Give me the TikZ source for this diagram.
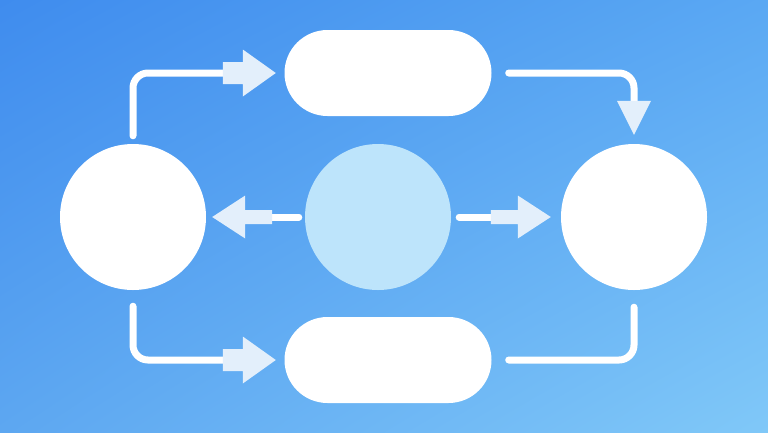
\documentclass[tikz,border=0pt]{standalone}
\usetikzlibrary{calc,shadings}
\definecolor{bgTL}{HTML}{3F8CEE}
\definecolor{bgTR}{HTML}{5AA8F3}
\definecolor{bgBL}{HTML}{5DA7F1}
\definecolor{bgBR}{HTML}{80C8F8}
\definecolor{centerc}{HTML}{BDE4FB}
\definecolor{headc}{HTML}{E3EFFB}
\begin{document}
\begin{tikzpicture}[x=1pt,y=-1pt,
  disc/.style={circle,fill=white,minimum size=146pt,inner sep=0pt},
  pill/.style={rectangle,rounded corners=43pt,fill=white,minimum width=207pt,minimum height=86pt,inner sep=0pt},
  wire/.style={draw=white,line width=7pt,line cap=round,rounded corners=15pt},
  elbowhead/.pic={\fill[headc] (-53,-11) -- (-33,-11) -- (-33,-23.5) -- (0,0) -- (-33,23.5) -- (-33,11) -- (-53,11) -- cycle;},
  midhead/.pic={\fill[headc] (-60,-7) -- (-33,-7) -- (-33,-21.5) -- (0,0) -- (-33,21.5) -- (-33,7) -- (-60,7) -- cycle;},
  trihead/.pic={\fill[headc] (-34,-17) -- (0,0) -- (-34,17) -- cycle;}]
\useasboundingbox (0,0) rectangle (768,432);
\shade[upper left=bgTL,upper right=bgTR,lower left=bgBL,lower right=bgBR] (0,0) rectangle (768,432);

\node[disc] (L) at (133,217) {};
\node[disc,fill=centerc] (C) at (378,217) {};
\node[disc] (R) at (634,217) {};
\node[pill] (T) at (388,73) {};
\node[pill] (B) at (388,360) {};

% top-left: L -> T
\draw[wire] ($(L.north)+(0,-8)$) -- (L.north |- T.west) -- ($(T.west)+(-61,0)$);
\pic at ($(T.west)+(-8.5,0)$) {elbowhead};
% bottom-left: L -> B
\draw[wire] ($(L.south)+(0,16)$) -- (L.south |- B.west) -- ($(B.west)+(-61,0)$);
\pic at ($(B.west)+(-8.5,0)$) {elbowhead};
% top-right: T -> R
\draw[wire] ($(T.east)+(17,0)$) -- (R.north |- T.east) -- ($(R.north)+(0,-42)$);
\pic[rotate=-90] at ($(R.north)+(0,-9)$) {trihead};
% bottom-right: R -- B
\draw[wire] ($(R.south)+(0,17)$) -- (R.south |- B.east) -- ($(B.east)+(17,0)$);
% middle: C -> L, C -> R
\draw[wire] ($(C.west)+(-6,0)$) -- ($(L.east)+(64,0)$);
\pic[rotate=180] at ($(L.east)+(6,0)$) {midhead};
\draw[wire] ($(C.east)+(8,0)$) -- ($(R.west)+(-68,0)$);
\pic at ($(R.west)+(-10,0)$) {midhead};
\end{tikzpicture}
\end{document}
